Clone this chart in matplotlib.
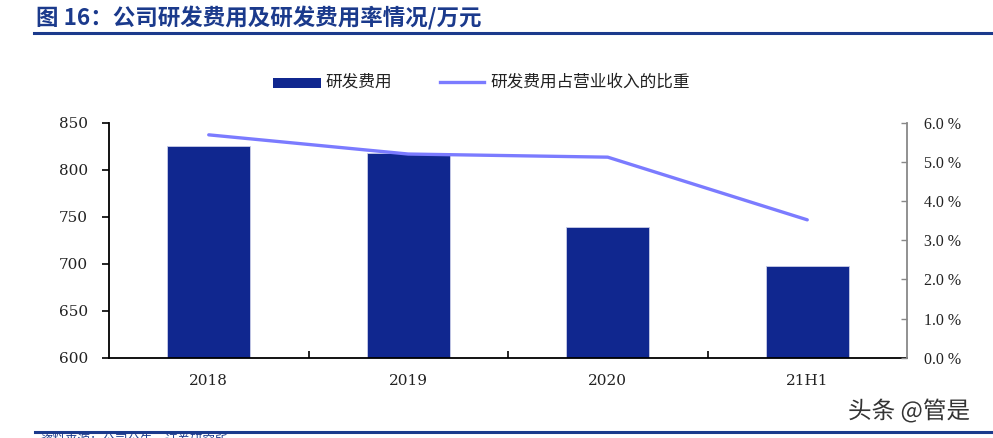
import matplotlib
matplotlib.use("Agg")
import matplotlib.pyplot as plt
from matplotlib.patches import Rectangle
from matplotlib.lines import Line2D
from matplotlib.ticker import FuncFormatter, FixedLocator
import matplotlib.patheffects as pe

# ---- data ----
years = ["2018", "2019", "2020", "21H1"]
rd_cost = [825.5, 818, 739, 698]            # 万元
rd_ratio = [0.0569, 0.0520, 0.0512, 0.0352]  # share of revenue

BAR = "#10278F"
LINE = "#7B7BFF"
TITLE = "#1B3A8C"
CJK = ["Noto Sans CJK SC", "DejaVu Sans"]
SERIF = "DejaVu Serif"

W, H = 993, 438
fig = plt.figure(figsize=(W / 100, H / 100), dpi=100)

def fx(px): return px / W
def fy(py): return 1 - py / H

ax = fig.add_axes([fx(109), fy(357.7), fx(907) - fx(109), fy(122.7) - fy(357.7)])
x = list(range(len(years)))
ax.bar(x, rd_cost, width=0.415, color=BAR, edgecolor="#c9cde8", linewidth=0.6, zorder=2)
ax.set_xlim(-0.5, len(years) - 0.5)
ax.set_ylim(600, 850)
ax.set_yticks(range(600, 851, 50))
ax.set_xticks(x)
ax.set_xticklabels(years)
ax.xaxis.set_minor_locator(FixedLocator([0.5, 1.5, 2.5]))
ax.tick_params(axis="x", which="major", length=0, pad=12, labelsize=11)
ax.tick_params(axis="x", which="minor", length=5, direction="in", width=1.2)
ax.tick_params(axis="y", length=5, direction="out", width=1.2, labelsize=11, pad=10)
for lab in ax.get_xticklabels() + ax.get_yticklabels():
    lab.set_family(SERIF)
    lab.set_color("#222222")
for s in ["top", "right"]:
    ax.spines[s].set_visible(False)
ax.spines["left"].set_linewidth(1.3)
ax.spines["bottom"].set_linewidth(1.3)

ax2 = ax.twinx()
ax2.plot(x, rd_ratio, color=LINE, linewidth=2.4, solid_capstyle="round", zorder=3)
ax2.set_ylim(0, 0.06)
ax2.set_yticks([i / 100 for i in range(7)])
ax2.yaxis.set_major_formatter(FuncFormatter(lambda v, p: f"{v*100:.1f} %"))
ax2.tick_params(axis="y", length=4, direction="in", width=1, colors="#888888",
                labelcolor="#222222", labelsize=11.5, pad=12)
for lab in ax2.get_yticklabels():
    lab.set_family("Liberation Serif")
for s in ["top", "left", "bottom"]:
    ax2.spines[s].set_visible(False)
ax2.spines["right"].set_color("#888888")
ax2.spines["right"].set_linewidth(1.3)

# ---- title + rules ----
fig.text(fx(36), fy(19), "图 16：公司研发费用及研发费用率情况/万元", family=CJK,
         fontsize=16.2, weight="bold", color=TITLE, va="center", ha="left")
fig.add_artist(Line2D([fx(34), 1], [fy(33), fy(33)], color=TITLE, lw=2.2))
fig.add_artist(Line2D([fx(35), 1], [fy(431.5), fy(431.5)], color=TITLE, lw=2.2))

# ---- legend ----
fig.add_artist(Rectangle((fx(273), fy(88)), fx(321) - fx(273), fy(78) - fy(88),
                         facecolor=BAR, edgecolor="none"))
fig.text(fx(325), fy(82), "研发费用", family=CJK, fontsize=12, va="center", color="#222222")
fig.add_artist(Line2D([fx(440), fx(484)], [fy(82), fy(82)], color=LINE, lw=2.4))
fig.text(fx(490), fy(82), "研发费用占营业收入的比重", family=CJK, fontsize=12,
         va="center", color="#222222")

# ---- watermark + cut-off source line ----
fig.text(fx(848), fy(411), "头条 @管是", family=CJK, fontsize=17, color="#333333",
         va="center", ha="left",
         path_effects=[pe.withStroke(linewidth=2, foreground="white")])
fig.text(fx(40), fy(434), "资料来源：公司公告，证券研究所", family=CJK, fontsize=9,
         color=TITLE, va="top", ha="left")

fig.savefig("out.png", dpi=100)
